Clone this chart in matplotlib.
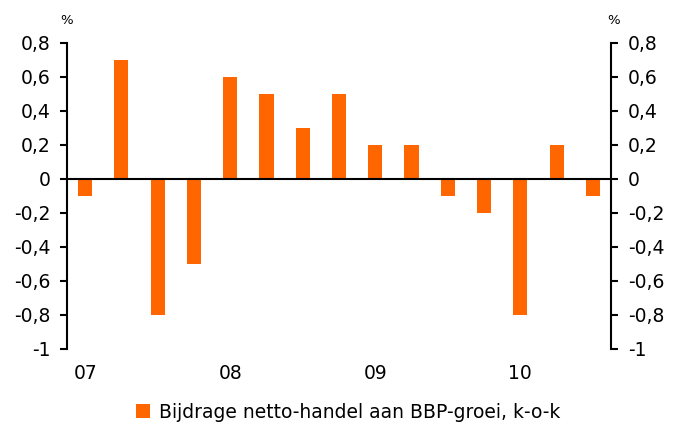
import numpy as np
import matplotlib.pyplot as plt
from matplotlib.patches import Patch

# Data
quarters = ['07', '', '', '', '08', '', '', '', '09', '', '', '', '10', '', '']
values = [-0.1, 0.7, -0.8, -0.5, 0.6, 0.5, 0.3, 0.5, 0.2, 0.2, -0.1, -0.2, -0.8, 0.2, -0.1]
yticks = [-1, -0.8, -0.6, -0.4, -0.2, 0, 0.2, 0.4, 0.6, 0.8]
ylabels = ['-1', '-0,8', '-0,6', '-0,4', '-0,2', '0', '0,2', '0,4', '0,6', '0,8']
series_name = 'Bijdrage netto-handel aan BBP-groei, k-o-k'
color = '#FF6600'

plt.rcParams['font.family'] = ['DejaVu Sans']

fig = plt.figure(figsize=(6.74, 4.26), dpi=100)
ax = fig.add_axes([67 / 674, (426 - 349) / 426, (611 - 67) / 674, (349 - 43) / 426])

x = np.arange(len(values))
ax.bar(x, values, width=0.39, color=color, zorder=2)
ax.axhline(0, color='black', lw=1.5, zorder=3)

ax.set_xlim(-0.5, len(values) - 0.5)
ax.set_ylim(-1, 0.8)
ax.set_yticks(yticks)
ax.set_yticklabels(ylabels, fontsize=13.5)
ax.tick_params(axis='y', direction='out', length=5, width=1.5, pad=7,
               left=True, right=True, labelleft=True, labelright=True)
ax.set_xticks(x)
ax.set_xticklabels(quarters, fontsize=13.5)
ax.tick_params(axis='x', length=0, pad=11)

for side in ['top', 'bottom']:
    ax.spines[side].set_visible(False)
for side in ['left', 'right']:
    ax.spines[side].set_linewidth(1.5)

fig.text(67 / 674, 1 - 20 / 426, '%', fontsize=9.5, ha='center', va='center')
fig.text(614 / 674, 1 - 20 / 426, '%', fontsize=9.5, ha='center', va='center')

handles = [Patch(facecolor=color, label=series_name)]
fig.legend(handles=handles, loc='center', bbox_to_anchor=(348 / 674, 1 - 412 / 426),
           frameon=False, fontsize=13.5, handlelength=0.75, handleheight=0.75,
           handletextpad=0.45)

fig.savefig('out.png', dpi=100)
